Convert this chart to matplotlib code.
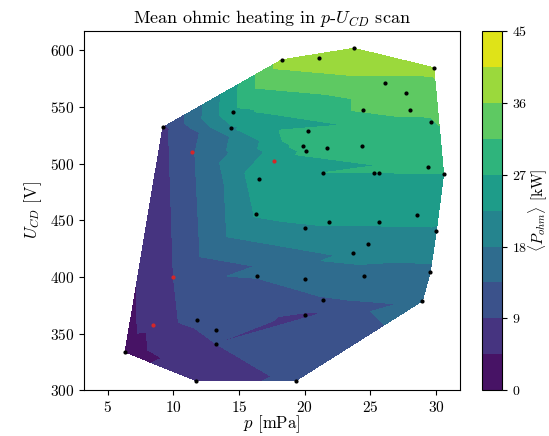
"""
Mean ohmic heating over the pressure / discharge voltage scan.
Scattered scan points are interpolated with a filled triangular contour.
"""

import matplotlib
matplotlib.use("Agg")
import matplotlib.pyplot as plt
import numpy as np

plt.rcParams["font.family"] = "serif"
plt.rcParams["font.serif"] = ["cmr10", "DejaVu Serif"]
plt.rcParams["mathtext.fontset"] = "cm"
plt.rcParams["axes.formatter.use_mathtext"] = True

# ============================================
# SCAN DATA
# ============================================
# neutral pressure [mPa]
p_mpa = [23.75, 18.26, 21.08, 29.84, 26.10, 27.70, 14.56, 24.42, 28.04, 29.60,
         14.43, 20.23, 9.20, 19.88, 21.74, 20.10, 24.37, 16.52, 21.37, 25.30,
         25.70, 29.38, 30.59, 16.33, 21.88, 20.02, 25.68, 30.04, 24.85, 23.70,
         28.58, 16.38, 20.02, 24.56, 29.57, 21.40, 28.98, 20.00, 11.83, 13.22,
         13.22, 6.33, 11.75, 19.33]
# discharge voltage [V]
u_cd = [601.7, 591.5, 592.7, 584.6, 571.0, 562.6, 545.4, 546.9, 546.9, 536.4,
        531.3, 528.3, 531.9, 515.3, 513.8, 510.8, 515.3, 486.7, 491.8, 491.8,
        491.8, 496.6, 491.2, 455.1, 448.2, 443.0, 448.2, 440.6, 428.6, 421.0,
        454.2, 400.9, 397.9, 400.9, 404.4, 379.8, 378.9, 366.0, 361.7, 353.3,
        341.2, 333.7, 308.4, 308.4]
# mean ohmic heating [kW]
p_ohm = [40, 38, 39, 37, 35, 34, 26, 32, 32, 31,
         22, 30, 8, 29, 29, 28, 29, 25, 27, 27,
         27, 28, 27, 23, 23, 22, 23, 22, 20, 19,
         24, 16, 16, 17, 17, 13, 15, 8, 12, 11,
         9, 3, 7, 10]

# shots taken in the second campaign
p_extra = [11.4, 17.7, 10.0, 8.48]
u_extra = [510.0, 502.0, 400.0, 357.2]
ohm_extra = [13, 25, 9, 5]

LEVELS = np.linspace(0, 45, 11)
CBAR_TICKS = [0, 9, 18, 27, 36, 45]


def main():
    fig = plt.figure(figsize=(5.49, 4.36), dpi=100)
    ax = fig.add_axes([0.153, 0.105, 0.684, 0.824])
    cax = fig.add_axes([0.878, 0.105, 0.036, 0.824])

    p_all = np.array(p_mpa + p_extra)
    u_all = np.array(u_cd + u_extra)
    ohm_all = np.array(p_ohm + ohm_extra)

    cs = ax.tricontourf(p_all, u_all, ohm_all, levels=LEVELS, cmap="viridis")
    ax.plot(p_mpa, u_cd, "k.", markersize=4)
    ax.plot(p_extra, u_extra, ".", color="#d62728", markersize=4)

    ax.set_xlim(3.2, 31.8)
    ax.set_ylim(300, 617)
    ax.set_xticks([5, 10, 15, 20, 25, 30])
    ax.set_yticks([300, 350, 400, 450, 500, 550, 600])
    ax.tick_params(labelsize=11)
    ax.set_xlabel(r"$p$ [mPa]", fontsize=12, labelpad=-1)
    ax.set_ylabel(r"$U_{CD}$ [V]", fontsize=12)
    ax.set_title(r"Mean ohmic heating in $p$-$U_{CD}$ scan", fontsize=13)

    cb = fig.colorbar(cs, cax=cax, ticks=CBAR_TICKS)
    cb.ax.tick_params(labelsize=10)
    cb.set_label(r"$\langle P_{ohm}\rangle$ [kW]", fontsize=11, labelpad=-1)

    fig.savefig("out.png", dpi=100)
    plt.close(fig)


if __name__ == "__main__":
    main()
